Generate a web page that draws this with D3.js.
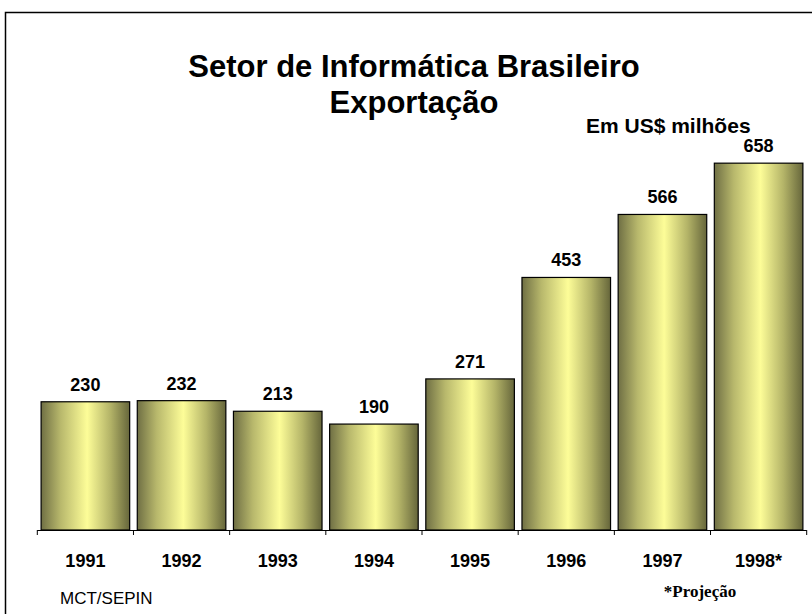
<!DOCTYPE html>
<html>
<head>
<meta charset="utf-8">
<script src="https://cdn.jsdelivr.net/npm/d3@7"></script>
<style>
  body { margin: 0; background: #fff; }
  text { font-family: "Liberation Sans", Arial, sans-serif; }
</style>
</head>
<body>
<svg id="chart"></svg>
<script>
// data
const years = ['1991', '1992', '1993', '1994', '1995', '1996', '1997', '1998*'];
const exports = [230, 232, 213, 190, 271, 453, 566, 658];

const width = 812, height = 614;

const svg = d3.select('#chart')
    .attr('width', width)
    .attr('height', height);

// gradient for the bars
const grad = svg.append('defs').append('linearGradient')
    .attr('id', 'barGrad')
    .attr('x1', '0%').attr('x2', '100%')
    .attr('y1', '0%').attr('y2', '0%');
grad.append('stop').attr('offset', '0%').attr('stop-color', '#6f6f44');
grad.append('stop').attr('offset', '22%').attr('stop-color', '#b8b86c');
grad.append('stop').attr('offset', '52%').attr('stop-color', '#fdfd98');
grad.append('stop').attr('offset', '78%').attr('stop-color', '#b4b468');
grad.append('stop').attr('offset', '100%').attr('stop-color', '#66663b');

// outer frame (only top & left visible)
svg.append('path')
    .attr('d', `M5.5,${height} V12.5 H${width}`)
    .attr('fill', 'none')
    .attr('stroke', '#000')
    .attr('stroke-width', 1.5);

const xscale = d3.scaleBand()
    .domain(years)
    .range([37.3, 806.7])
    .paddingInner(0.079)
    .paddingOuter(0.0395);

const yscale = d3.scaleLinear()
    .domain([0, 700])
    .range([530, 530 - 700 * 0.5575]);

const chart = svg.append('g');

chart.selectAll('.bar')
    .data(exports)
    .join('rect')
    .attr('class', 'bar')
    .attr('x', (d, i) => xscale(years[i]))
    .attr('y', d => yscale(d))
    .attr('width', xscale.bandwidth())
    .attr('height', d => yscale(0) - yscale(d))
    .attr('fill', 'url(#barGrad)')
    .attr('stroke', '#000')
    .attr('stroke-width', 1.2);

chart.selectAll('.val')
    .data(exports)
    .join('text')
    .attr('class', 'val')
    .attr('x', (d, i) => xscale(years[i]) + xscale.bandwidth() / 2)
    .attr('y', d => yscale(d) - 11)
    .attr('text-anchor', 'middle')
    .attr('font-size', 18)
    .attr('font-weight', 'bold')
    .text(d => d);

// baseline with ticks at category boundaries
const step = xscale.step();
const bounds = years.map(y => xscale(y) - step * xscale.paddingInner() / 2);
bounds.push(xscale.range()[1]);
chart.append('line')
    .attr('x1', xscale.range()[0]).attr('x2', xscale.range()[1])
    .attr('y1', yscale(0) + 0.5).attr('y2', yscale(0) + 0.5)
    .attr('stroke', '#000');
chart.selectAll('.tick-mark')
    .data(bounds)
    .join('line')
    .attr('class', 'tick-mark')
    .attr('x1', d => d).attr('x2', d => d)
    .attr('y1', yscale(0)).attr('y2', yscale(0) + 5)
    .attr('stroke', '#000');

// year labels
const xaxis = d3.axisBottom(xscale).tickSize(0).tickPadding(24);
const xg = chart.append('g')
    .attr('transform', `translate(0, ${yscale(0)})`)
    .call(xaxis);
xg.select('.domain').remove();
xg.selectAll('text')
    .attr('font-family', '"Liberation Sans", Arial, sans-serif')
    .attr('font-size', 18)
    .attr('font-weight', 'bold')
    .attr('fill', '#000');

// titles
svg.append('text')
    .attr('x', 414).attr('y', 77)
    .attr('text-anchor', 'middle')
    .attr('font-size', 31)
    .attr('font-weight', 'bold')
    .text('Setor de Informática Brasileiro');
svg.append('text')
    .attr('x', 414).attr('y', 113)
    .attr('text-anchor', 'middle')
    .attr('font-size', 31)
    .attr('font-weight', 'bold')
    .text('Exportação');
svg.append('text')
    .attr('x', 586).attr('y', 133)
    .attr('font-size', 21)
    .attr('font-weight', 'bold')
    .text('Em US$ milhões');

svg.append('text')
    .attr('x', 60).attr('y', 604)
    .attr('font-size', 17)
    .text('MCT/SEPIN');
svg.append('text')
    .attr('x', 700).attr('y', 597)
    .attr('text-anchor', 'middle')
    .attr('font-size', 17)
    .attr('font-weight', 'bold')
    .style('font-family', '"Liberation Serif", "Times New Roman", serif')
    .text('*Projeção');
</script>
</body>
</html>
